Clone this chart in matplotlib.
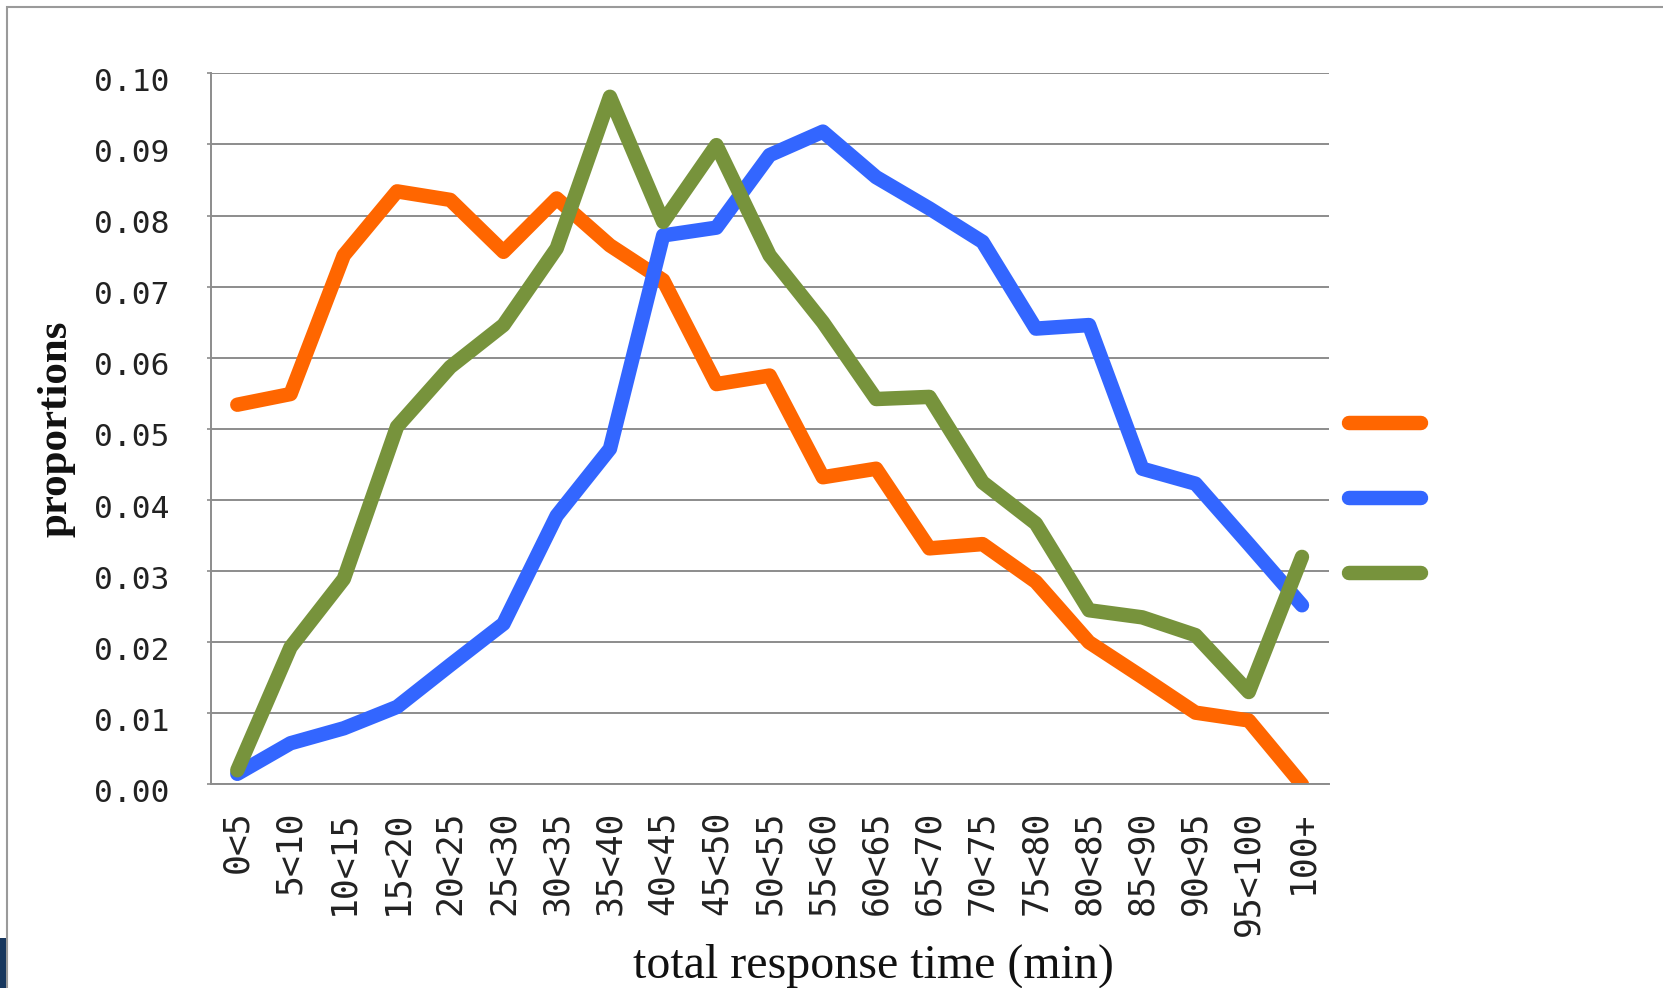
import matplotlib
matplotlib.use("Agg")
import matplotlib.pyplot as plt
from matplotlib.patches import Rectangle
from matplotlib.ticker import FormatStrFormatter
from matplotlib.transforms import ScaledTranslation

# response-time bins (minutes)
bins = ["0<5", "5<10", "10<15", "15<20", "20<25", "25<30", "30<35", "35<40",
        "40<45", "45<50", "50<55", "55<60", "60<65", "65<70", "70<75", "75<80",
        "80<85", "85<90", "90<95", "95<100", "100+"]

# proportion of responses falling in each bin
orange_share = [0.0534, 0.0549, 0.0744, 0.0834, 0.0822, 0.0749, 0.0824, 0.0758,
                0.0709, 0.0563, 0.0575, 0.0432, 0.0444, 0.0332, 0.0338, 0.0285,
                0.0200, 0.0151, 0.0101, 0.0090, 0.0000]
blue_share = [0.0015, 0.0058, 0.0079, 0.0109, 0.0168, 0.0226, 0.0378, 0.0472,
              0.0772, 0.0783, 0.0885, 0.0918, 0.0854, 0.0810, 0.0763, 0.0641,
              0.0646, 0.0444, 0.0423, 0.0338, 0.0252]
green_share = [0.0020, 0.0193, 0.0289, 0.0503, 0.0587, 0.0646, 0.0754, 0.0967,
               0.0791, 0.0899, 0.0744, 0.0650, 0.0542, 0.0545, 0.0425, 0.0367,
               0.0245, 0.0235, 0.0210, 0.0130, 0.0320]

series_colors = ["#FF6600", "#3366FF", "#77933C"]
grid_gray = "#8c8c8c"

fig = plt.figure(figsize=(16.63, 9.88), dpi=100)
ax = fig.add_axes([0.1267, 0.2060, 0.6722, 0.7198])

x = list(range(len(bins)))
handles = []
for values, color in zip([orange_share, blue_share, green_share], series_colors):
    (ln,) = ax.plot(x, values, color=color, lw=10.4,
                    solid_capstyle="round", solid_joinstyle="round")
    handles.append(ln)

ax.set_xlim(-0.5, len(bins) - 0.5)
ax.set_ylim(0, 0.10)
ax.set_yticks([i / 100 for i in range(11)])
ax.yaxis.set_major_formatter(FormatStrFormatter("%.2f"))
ax.set_xticks(x)
ax.set_xticklabels(bins, rotation=90)

ax.set_axisbelow(True)
ax.yaxis.grid(True, color=grid_gray, lw=1.4)
ax.xaxis.grid(False)
for side in ("top", "right"):
    ax.spines[side].set_visible(False)
for side in ("left", "bottom"):
    ax.spines[side].set_color(grid_gray)
    ax.spines[side].set_linewidth(1.4)

ax.tick_params(axis="y", length=3, width=1.2, color=grid_gray, pad=27,
               labelsize=22.5)
ax.tick_params(axis="x", length=0, pad=19, labelsize=25)
for lbl in ax.get_yticklabels() + ax.get_xticklabels():
    lbl.set_fontfamily("DejaVu Sans Mono")
    lbl.set_color("#222222")
# nudge the y labels a little below their gridlines
for lbl in ax.get_yticklabels():
    lbl.set_transform(lbl.get_transform()
                      + ScaledTranslation(0, -6 / 100, fig.dpi_scale_trans))

ax.set_ylabel("proportions", fontfamily="Liberation Serif", fontweight="bold",
              fontsize=31, color="#111111")
ax.yaxis.set_label_coords(-0.1205, 0.5)
ax.set_xlabel("total response time (min)", fontfamily="Liberation Serif",
              fontsize=34.5, color="#111111")
ax.xaxis.set_label_coords(0.593, -0.2235)

# legend swatches only; the labels sit outside the frame
ax.legend(handles=handles, labels=[" "] * 3, loc="center left",
          bbox_to_anchor=(0.8112, 0.4939), bbox_transform=fig.transFigure,
          frameon=False, borderpad=0, borderaxespad=0, handletextpad=0,
          handlelength=2.59, labelspacing=1.69, fontsize=20)

# slide frame: thin gray border at top/left and a dark tab at the lower left
fig.add_artist(Rectangle((7 / 1663, -0.05), 1.1, 1.05 - 7 / 988,
                         fill=False, ec="#9a9a9a", lw=1.5,
                         transform=fig.transFigure))
fig.add_artist(Rectangle((0, 0), 6 / 1663, 50 / 988, fc="#17375E", ec="none",
                         transform=fig.transFigure))

fig.savefig("out.png", dpi=100)
plt.close(fig)
